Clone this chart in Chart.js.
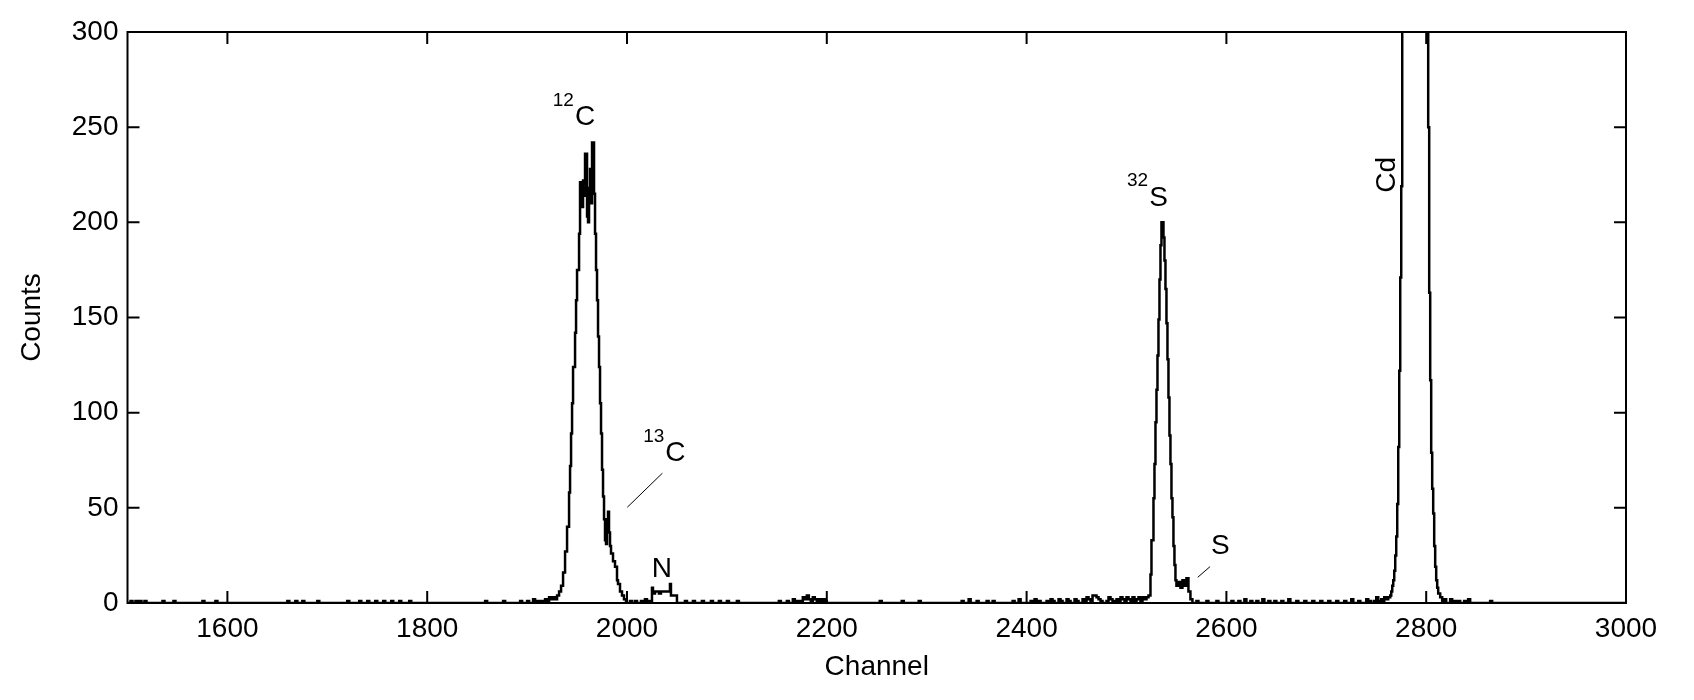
<!DOCTYPE html>
<html><head><meta charset="utf-8">
<script src="https://cdn.jsdelivr.net/npm/chart.js@4.4.0/dist/chart.umd.min.js"></script>
<style>html,body{margin:0;padding:0;background:#fff}canvas{display:block}</style>
</head><body>
<canvas id="c" width="1694" height="700" style="width:1694px;height:700px"></canvas>
<script>
// Histogram as [channel, count] step-change points (count holds until the next channel)
const noiseLow = [[1500,0],[1503,1],[1505,0],[1508,1],[1510,0],[1512,1],[1514,0],[1517,1],[1519,0],
  [1535,1],[1537,0],[1546,1],[1548,0],[1575,1],[1577,0],[1588,1],[1590,0],
  [1660,1],[1662,0],[1668,1],[1670,0],[1675,1],[1677,0],[1690,1],[1692,0],
  [1720,1],[1722,0],[1732,1],[1734,0],[1740,1],[1742,0],[1748,1],[1750,0],[1756,1],[1758,0],
  [1764,1],[1766,0],[1772,1],[1774,0],[1782,1],[1784,0],[1858,1],[1860,0],[1876,1],[1878,0],
  [1893,1],[1895,0],[1900,1],[1902,0],[1906,2],[1908,0],[1910,1],[1912,0],[1914,1],[1916,0],
  [1918,2],[1920,1],[1922,3],[1924,2]];
const peak12C = [[1926,3],[1928,2],[1930,4],[1932,6],[1934,9],[1936,16],[1938,27],[1940,40],[1942,58],
  [1943,72],[1944,89],[1945,105],[1946,124],[1948,142],[1949,159],[1950,175],[1952,194],[1953,221],
  [1955,208],[1956,222],[1957,214],[1958,236],[1960,203],[1961,200],[1962,218],[1963,228],[1964,210],
  [1965,242],[1967,215],[1968,194],[1969,175],[1970,159],[1971,140],[1972,124],[1973,105],[1974,89],
  [1975,70],[1976,56],[1977,44],[1978,33],[1979,31],[1980,44],[1981,48],[1982,37],[1983,30],[1984,26],
  [1986,22],[1988,19],[1990,12],[1991,10],[1993,6],[1995,4],[1997,2],[1999,0],
  [2003,1],[2005,0],[2008,1],[2010,0],[2014,1],[2016,0],[2018,2],[2020,0],[2021,1],[2023,0]];
const peakN = [[2025,8],[2026,5],[2028,6],[2032,5],[2034,6],[2043,10],[2044,4],[2050,0]];
const noiseMid = [[2058,1],[2060,0],[2066,1],[2068,0],[2075,1],[2077,0],[2084,1],[2086,0],[2092,1],[2094,0],
  [2100,1],[2102,0],[2110,1],[2112,0],[2152,1],[2154,0],[2160,1],[2162,0],[2166,2],[2168,1],[2170,0],
  [2172,1],[2174,0],[2176,3],[2178,2],[2180,4],[2182,2],[2184,1],[2186,3],[2188,2],[2190,1],[2192,2],
  [2194,0],[2196,2],[2198,1],[2200,0],[2253,1],[2255,0],[2275,1],[2277,0],[2292,1],[2294,0],
  [2335,1],[2337,0],[2342,2],[2344,0],[2350,1],[2352,0],[2360,1],[2362,0],[2366,1],[2368,0],
  [2386,1],[2388,0],[2392,2],[2394,0],[2404,1],[2406,0],[2408,2],[2410,0],[2412,1],[2414,0],
  [2420,1],[2422,0],[2424,2],[2426,1],[2428,0],[2432,2],[2434,1],[2436,0],[2440,2],[2442,1],[2444,0],
  [2448,2],[2450,1],[2452,0],[2456,2],[2458,1],[2460,3],[2462,2],[2464,1],[2466,4],[2470,3],[2472,2],
  [2474,1],[2476,0],[2480,1],[2482,3],[2484,2],[2486,1],[2488,0],[2490,2],[2492,1],[2494,3],[2496,2],
  [2498,1],[2500,3],[2502,2],[2504,1],[2506,3],[2508,1],[2510,2],[2512,3],[2514,1],[2516,3],[2518,2],
  [2520,3],[2522,4]];
const peak32S = [[2524,15],[2525,33],[2527,55],[2528,73],[2529,95],[2530,112],[2531,130],[2532,149],
  [2533,170],[2534,188],[2535,200],[2537,192],[2538,180],[2539,165],[2540,147],[2541,128],[2542,108],
  [2543,88],[2544,73],[2545,55],[2546,45],[2547,30],[2548,20],[2549,12],[2550,9],[2552,11],[2554,8],
  [2556,12],[2558,9],[2560,13],[2562,6],[2564,2],[2566,0]];
const noiseHigh = [[2570,1],[2572,0],[2580,1],[2582,0],[2590,1],[2592,0],[2605,1],[2607,0],[2612,1],[2614,0],
  [2618,2],[2620,0],[2624,1],[2626,0],[2630,1],[2632,0],[2636,2],[2638,0],[2642,1],[2644,0],[2648,1],[2650,0],
  [2655,1],[2657,0],[2662,2],[2664,0],[2670,1],[2672,0],[2678,1],[2680,0],[2686,1],[2688,0],[2694,1],[2696,0],
  [2702,1],[2704,0],[2710,1],[2712,0],[2718,1],[2720,0],[2725,2],[2727,0],[2732,1],[2734,0],[2740,2],[2742,1],
  [2745,0],[2748,1],[2750,3],[2752,1],[2755,2],[2757,1],[2758,3],[2760,2]];
const peakCd = [[2762,3],[2764,4],[2765,6],[2766,9],[2767,12],[2768,17],[2769,25],[2770,35],[2771,52],
  [2772,82],[2773,122],[2774,171],[2775,219],[2776,420],[2777,700],[2779,1000],[2782,1300],[2786,1500],
  [2790,1450],[2794,1200],[2798,800],[2801,450],[2802,250],[2803,163],[2804,117],[2805,79],[2806,60],
  [2807,47],[2808,30],[2809,19],[2810,12],[2811,8],[2812,5],[2814,3],[2816,1],[2818,2],[2820,0]];
const noiseTail = [[2824,2],[2826,0],[2828,1],[2830,0],[2832,1],[2834,0],[2838,1],[2840,0],[2842,2],[2844,0],
  [2864,1],[2866,0],[3000,0]];

const xTickValues = [1600,1800,2000,2200,2400,2600,2800,3000];
const yTickValues = [0,50,100,150,200,250,300];

const annotations = [
  { text: 'C', sup: '12', x: 1958, y: 255 },
  { text: 'C', sup: '13', x: 2048.5, y: 78.6 },
  { text: 'N', x: 2035, y: 17.9 },
  { text: 'S', sup: '32', x: 2532, y: 212.8 },
  { text: 'S', x: 2594, y: 30 },
  { text: 'Cd', x: 2761, y: 225, rotate: true }
];
const leaders = [
  [[2000.3, 50.3], [2035.4, 68.2]],
  [[2571.3, 13.5], [2583.6, 19.1]]
];

const FONT = '"Liberation Sans", Arial, Helvetica, sans-serif';
const points = [].concat(noiseLow, peak12C, peakN, noiseMid, peak32S, noiseHigh, peakCd, noiseTail)
  .map(([x, y]) => ({ x, y }));

const TICK = 12;
const frameTicks = {
  id: 'frameTicks',
  afterDatasetsDraw(chart) {
    const { ctx, chartArea: a, scales: { x, y } } = chart;
    ctx.save();
    ctx.strokeStyle = '#000';
    ctx.lineWidth = 2;
    ctx.beginPath();
    x.ticks.forEach(t => {
      const px = x.getPixelForValue(t.value);
      ctx.moveTo(px, a.bottom); ctx.lineTo(px, a.bottom - TICK);
      ctx.moveTo(px, a.top); ctx.lineTo(px, a.top + TICK);
    });
    y.ticks.forEach(t => {
      const py = y.getPixelForValue(t.value);
      ctx.moveTo(a.left, py); ctx.lineTo(a.left + TICK, py);
      ctx.moveTo(a.right, py); ctx.lineTo(a.right - TICK, py);
    });
    ctx.stroke();
    ctx.strokeRect(a.left, a.top, a.right - a.left, a.bottom - a.top);

    ctx.lineWidth = 1;
    ctx.beginPath();
    leaders.forEach(([p, q]) => {
      ctx.moveTo(x.getPixelForValue(p[0]), y.getPixelForValue(p[1]));
      ctx.lineTo(x.getPixelForValue(q[0]), y.getPixelForValue(q[1]));
    });
    ctx.stroke();

    ctx.fillStyle = '#000';
    ctx.textBaseline = 'middle';
    annotations.forEach(an => {
      const px = x.getPixelForValue(an.x), py = y.getPixelForValue(an.y);
      ctx.save();
      ctx.translate(px, py);
      if (an.rotate) ctx.rotate(-Math.PI / 2);
      ctx.font = '28px ' + FONT;
      ctx.textAlign = 'center';
      const w = ctx.measureText(an.text).width;
      ctx.fillText(an.text, 0, 0);
      if (an.sup) {
        ctx.font = '19px ' + FONT;
        ctx.textAlign = 'right';
        ctx.fillText(an.sup, -w / 2 - 1, -17);
      }
      ctx.restore();
    });
    ctx.restore();
  }
};

new Chart(document.getElementById('c'), {
  type: 'line',
  data: {
    datasets: [{
      data: points,
      stepped: 'before',
      borderColor: '#000',
      borderWidth: 2.5,
      pointRadius: 0,
      fill: false,
      tension: 0
    }]
  },
  options: {
    responsive: false,
    animation: false,
    devicePixelRatio: 1,
    layout: { padding: { top: 32, right: 68, left: 0, bottom: 0 } },
    plugins: { legend: { display: false }, tooltip: { enabled: false } },
    scales: {
      x: {
        type: 'linear', min: 1500, max: 3000,
        afterBuildTicks: s => { s.ticks = xTickValues.map(v => ({ value: v })); },
        afterFit: s => { s.height = 97; },
        grid: { display: false, drawTicks: false },
        border: { display: false },
        ticks: { font: { family: FONT, size: 28 }, color: '#000', padding: 9, maxRotation: 0, autoSkip: false,
          callback: v => String(v) },
        title: { display: true, text: 'Channel', color: '#000', font: { family: FONT, size: 28 }, padding: { top: 0, bottom: 16 } }
      },
      y: {
        type: 'linear', min: 0, max: 300,
        afterBuildTicks: s => { s.ticks = yTickValues.map(v => ({ value: v })); },
        afterFit: s => { s.width = 127.5; },
        grid: { display: false, drawTicks: false },
        border: { display: false },
        ticks: { font: { family: FONT, size: 28 }, color: '#000', padding: 9, autoSkip: false,
          callback: v => String(v) },
        title: { display: true, text: 'Counts', color: '#000', font: { family: FONT, size: 28 }, padding: { top: 15, bottom: 0 } }
      }
    }
  },
  plugins: [frameTicks]
});
</script>
</body></html>
